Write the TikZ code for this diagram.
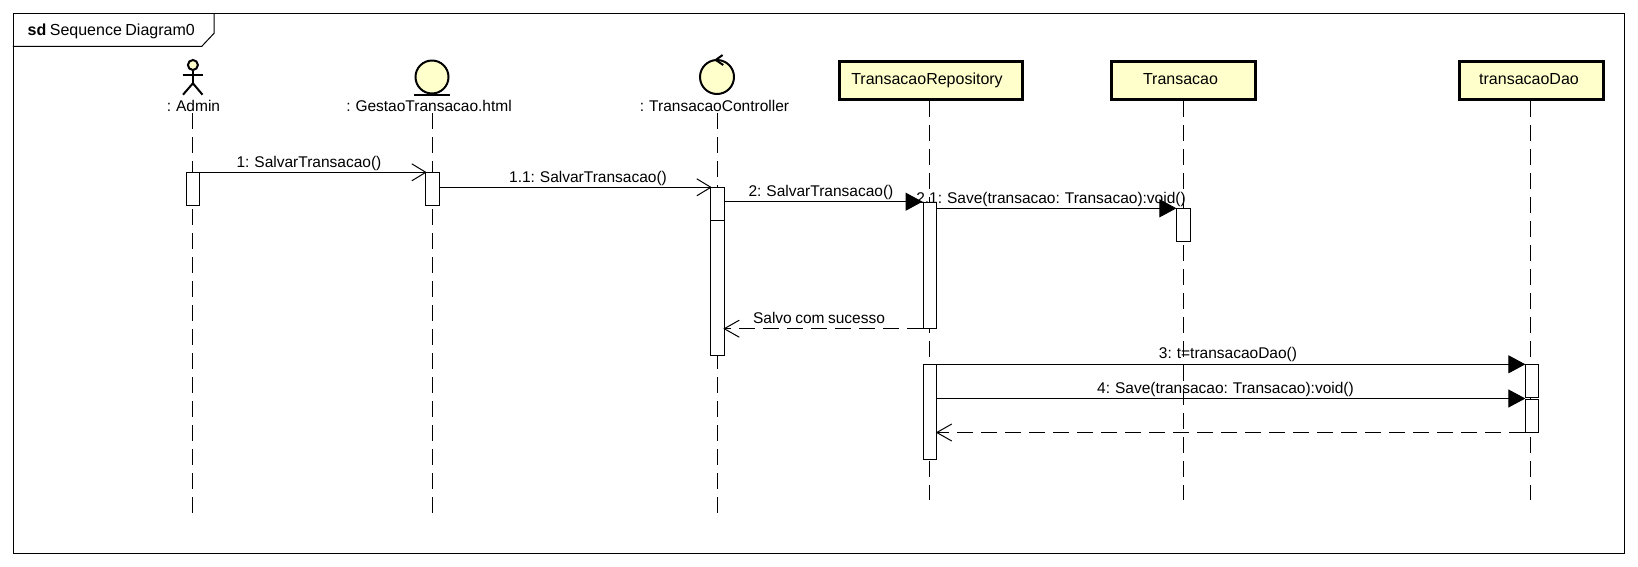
\documentclass[tikz,border=0pt]{standalone}
\usepackage{fontspec}
\usepackage{xcolor}
\setmainfont{Liberation Sans}
\usetikzlibrary{arrows.meta,positioning,calc}
\definecolor{objfill}{HTML}{FFFFCC}
\definecolor{ink}{HTML}{000000}
\newcommand{\objtext}[2]{\raisebox{3.6pt}{#2\hspace*{#1}}}
\newcommand{\tightspace}{\setlength{\spaceskip}{3.5pt}}
\tikzset{
  umlfont/.style={font=\fontsize{15.5}{18}\selectfont,execute at begin node=\tightspace},
  boxfont/.style={font=\fontsize{16}{18}\selectfont,execute at begin node=\tightspace},
  umlframe/.style={draw=ink,line width=1pt,minimum width=1611.5pt,minimum height=540pt,
                   inner sep=0pt},
  objbox/.style={draw=ink,fill=objfill,line width=3pt,inner sep=0pt,minimum height=38pt,
                 boxfont},
  actlabel/.style={umlfont,inner sep=0pt},
  msglabel/.style={umlfont,inner sep=0pt},
  figure/.style={draw=ink,line width=2pt},
  lifeline/.style={draw=ink,line width=1pt,dash pattern=on 16pt off 8pt},
  activation/.style={draw=ink,fill=white,line width=1pt,minimum width=13.5pt,inner sep=0pt,
                     anchor=north},
  syncarr/.style={-{Triangle[length=17pt,width=18pt]},line width=1pt,draw=ink},
  openarr/.style={-{Straight Barb[length=14pt,width=17pt]},line width=1pt,draw=ink,
                  shorten >=-1.5pt},
  retarr/.style={-{Straight Barb[length=15pt,width=17pt]},line width=1pt,draw=ink,
                 dash pattern=on 16pt off 8pt,shorten >=-1.5pt}
}
\begin{document}
\begin{tikzpicture}[x=1pt,y=-1pt]
    \path[use as bounding box,fill=white] (0,0) rectangle (1638,566);

    \node[umlframe] (frame) at (819.2,283.4) {};
    \draw[draw=ink,line width=1pt] (frame.north west |- 0,46.3) -- (201.8,46.3)
      -- (214,33.3) -- (214,13.4);
    \node[boxfont,inner sep=0pt,anchor=west] (title) at (27.5,31.7)
      {\textbf{sd} Sequence Diagram0};

    \draw[figure,fill=objfill] (192.9,65) circle (5);
    \node[inner sep=0pt,minimum size=10pt] (admhead) at (192.9,65) {};
    \coordinate (admbody) at (192.9,83.3);
    \draw[figure] (admhead.south) -- (admbody);
    \draw[figure] (182.5,75.3) -- (202.5,75.3);
    \draw[figure] (183,94.7) -- (admbody) -- (202.5,94.7);
    \node[actlabel] (admin) at (193.5,105.5) {: Admin};

    \node[circle,figure,fill=objfill,minimum size=33pt,inner sep=0pt] (gestaoc) at (432,77) {};
    \draw[figure] (414,94.5) -- (450,94.5);
    \node[actlabel] (gestao) at (429,105.5) {: GestaoTransacao.html};

    \node[circle,figure,fill=objfill,minimum size=34pt,inner sep=0pt] (ctrlc) at (717,77) {};
    \draw[figure] (722.6,55) -- (715.7,60) -- (723.3,65);
    \node[actlabel] (ctrl) at (714.5,105.5) {: TransacaoController};

    \node[objbox,minimum width=182.7pt] (repo) at (931,80.5)
      {\objtext{8pt}{TransacaoRepository}};
    \node[objbox,minimum width=144pt] (transacao) at (1183.5,80.5)
      {\objtext{6pt}{Transacao}};
    \node[objbox,minimum width=144pt] (dao) at (1531.5,80.5)
      {\objtext{5pt}{transacaoDao}};

    \coordinate (admintop) at (192.9,113);
    \coordinate (gestaotop) at (432,113);
    \coordinate (ctrltop) at (717.3,113);
    \coordinate (adminend) at (192.9,514);
    \coordinate (gestaoend) at (432,514);
    \coordinate (ctrlend) at (717.3,514);
    \coordinate (repoend) at (929.3,500);
    \coordinate (transacaoend) at (1183.3,500);
    \coordinate (daoend) at (1530.6,500);
    \draw[lifeline] (admintop) -- (adminend);
    \draw[lifeline] (gestaotop) -- (gestaoend);
    \draw[lifeline] (ctrltop) -- (ctrlend);
    \draw[lifeline] (repoend |- repo.south) -- (repoend);
    \draw[lifeline] (transacaoend |- transacao.south) -- (transacaoend);
    \draw[lifeline] (daoend |- dao.south) -- (daoend);

    \node[msglabel] (m1) at (309,163.7) {1: SalvarTransacao()};
    \node[msglabel] (m11) at (588,178) {1.1: SalvarTransacao()};
    \node[msglabel] (m2) at (821,192.7) {2: SalvarTransacao()};
    \node[msglabel] (m21) at (1051,199.2) {2.1: Save(transacao: Transacao):void()};
    \node[msglabel] (mok) at (819,318.3) {Salvo com sucesso};
    \node[msglabel] (m3) at (1228,354.3) {3: t=transacaoDao()};
    \node[msglabel] (m4) at (1225.5,389.5) {4: Save(transacao: Transacao):void()};

    \node[activation,minimum height=33pt] (aadmin) at (192.9,172.3) {};
    \node[activation,minimum height=33pt] (agestao) at (432.5,172.3) {};
    \node[activation,minimum height=168pt] (actrl) at (717.5,187.3) {};
    \node[activation,minimum height=33pt] (actrlb) at (717.5,187.3) {};
    \node[activation,minimum height=126pt] (arepo) at (929.8,201.7) {};
    \node[activation,minimum height=95pt] (arepob) at (930,364.3) {};
    \node[activation,minimum height=33pt] (atransacao) at (1183.7,208.3) {};
    \node[activation,minimum height=33pt,minimum width=12.7pt] (adao) at (1532.2,364.3) {};
    \node[activation,minimum height=33pt,minimum width=12.7pt] (adaob) at (1532.2,398.5) {};

    \draw[openarr] (aadmin.north east) -- (agestao.north west);
    \draw[openarr] (agestao.east |- actrl.north) -- (actrl.north west);
    \draw[syncarr] (actrl.east |- arepo.north) -- (arepo.north west);
    \draw[syncarr] (arepo.east |- atransacao.north) -- (atransacao.north west);
    \draw[retarr] (arepo.south west) -- (actrl.east |- arepo.south);
    \draw[syncarr] (arepob.north east) -- (adao.north west);
    \draw[syncarr] (arepob.east |- adaob.north) -- (adaob.north west);
    \draw[retarr] (adaob.south west) -- (arepob.east |- adaob.south);
  \end{tikzpicture}
\end{document}
